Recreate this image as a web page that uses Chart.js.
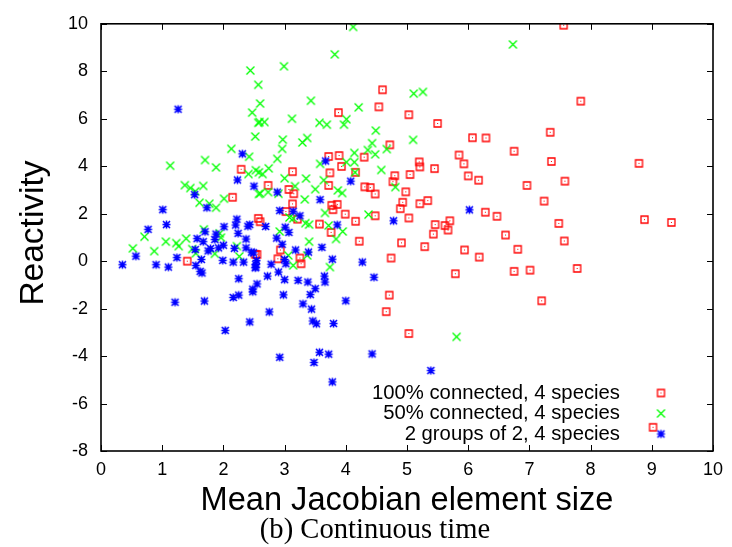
<!DOCTYPE html>
<html>
<head>
<meta charset="utf-8">
<script src="https://cdn.jsdelivr.net/npm/chart.js@4.4.0/dist/chart.umd.min.js"></script>
<style>
  html, body { margin: 0; padding: 0; background: #fff; }
  #wrap { width: 732px; height: 547px; }
</style>
</head>
<body>
<div id="wrap"><canvas id="myChart" width="732" height="547"></canvas></div>
<script>
// 100% connected, 4 species
const redX = [7.56,7.84,4.6,4.54,3.88,5.03,5.5,6.07,6.29,7.34,4.72,3.72,3.89,4.3,5.85,6.75,5.2,5.21,5.93,7.36,8.79,7.58,5.45,5.05,6.0,6.17,6.96,4.98,7.24,4.93,5.21,5.34,4.89,6.28,6.47,5.03,7.48,8.88,9.32,5.7,5.46,5.62,5.67,5.43,6.61,4.91,5.29,5.94,6.18,6.81,7.57,7.78,5.79,6.75,7.01,7.2,3.13,3.93,3.74,4.16,2.73,3.72,3.07,3.15,4.31,4.4,4.48,4.8,4.77,3.13,3.77,3.86,3.79,3.02,3.99,2.57,2.6,3.21,4.16,4.48,3.57,3.76,4.22,2.93,2.52,2.55,2.89,3.25,3.27,4.74,4.71,4.66,5.03,2.29,2.15,1.41,9.02];
const redY = [9.94,6.74,7.22,6.5,6.26,6.17,5.8,5.2,5.19,5.43,4.9,4.41,4.45,4.38,4.47,4.63,4.18,3.97,4.1,4.2,4.12,3.37,3.9,3.65,3.59,3.41,3.19,2.92,2.53,2.48,2.42,2.55,2.21,2.06,1.89,1.82,1.59,1.75,1.63,1.7,1.54,1.5,1.31,1.14,1.1,0.77,0.61,0.47,0.17,0.5,0.85,-0.31,-0.53,-0.43,-0.38,-1.67,3.77,3.99,3.72,3.74,3.19,3.19,3.02,2.84,3.13,3.1,2.83,3.6,3.35,2.41,2.35,2.39,2.17,2.09,1.98,1.8,1.66,1.77,1.68,1.91,1.56,1.21,0.84,0.47,0.29,0.28,0.1,0.13,-0.11,0.13,-1.43,-2.13,-3.05,3.87,2.69,0.0,-7.0];

// 50% connected, 4 species
const greenX = [2.44,2.57,2.6,2.47,2.57,2.52,2.13,2.42,1.7,4.12,3.82,2.99,3.43,4.21,3.12,2.59,2.67,3.57,3.69,4.01,3.97,4.49,2.97,3.29,3.37,2.96,4.43,4.36,4.48,4.14,4.67,2.88,4.01,4.14,6.73,5.11,5.26,5.1,1.13,1.88,2.41,2.53,2.58,1.37,1.46,1.54,1.67,1.61,1.77,1.88,2.01,2.58,1.68,0.71,1.06,1.23,1.27,1.39,0.52,0.87,1.49,1.55,1.86,1.94,1.96,2.22,2.26,3.58,2.64,2.74,3.0,3.35,3.64,4.15,4.58,4.81,2.6,2.73,2.9,3.17,3.5,3.33,3.87,3.94,3.66,4.37,3.08,3.14,3.34,3.4,3.72,2.92,3.95,3.84,3.4,3.14,3.74,3.06,3.37,5.81];
const greenY = [8.03,7.43,6.64,6.26,5.83,5.25,4.73,4.4,4.26,9.87,8.71,8.21,6.76,6.48,6.0,5.86,5.86,5.83,5.75,5.98,5.75,5.5,5.12,5.0,5.19,4.73,4.97,4.68,4.5,4.56,4.72,4.31,4.17,4.17,9.13,7.06,7.13,5.11,4.02,3.95,3.67,3.83,3.74,3.2,3.08,2.94,3.17,2.46,2.42,2.25,2.63,2.83,1.34,1.03,0.82,0.76,0.63,0.95,0.54,0.42,0.51,0.33,0.31,1.17,0.99,0.63,0.2,4.1,3.67,3.91,3.49,3.48,3.41,3.74,3.84,3.12,2.85,2.91,2.84,3.16,3.03,2.6,2.98,2.87,2.03,1.96,1.84,1.8,1.6,1.54,1.5,1.25,1.25,0.93,0.82,-0.18,-0.25,0.24,0.24,-3.19];

// 2 groups of 2, 4 species
const blueX = [1.26,2.31,3.67,2.23,2.5,1.53,1.73,1.01,1.07,0.77,1.7,1.57,1.67,1.88,1.86,2.0,2.01,2.22,2.2,2.24,2.4,2.37,2.18,2.37,2.49,1.79,1.75,1.92,1.54,1.64,1.24,1.99,2.16,2.33,0.35,0.57,0.9,1.1,1.55,1.62,1.65,2.52,2.53,2.25,2.55,2.48,2.16,2.25,1.21,1.69,2.03,2.43,2.48,2.98,3.42,2.75,3.3,3.44,4.0,3.46,3.52,3.8,2.92,3.57,3.72,3.48,4.43,3.78,5.39,2.88,4.08,3.58,2.92,3.14,3.25,3.01,3.07,2.69,2.43,3.86,4.78,2.87,2.96,3.61,3.18,3.39,2.46,2.54,2.53,2.78,3.0,3.02,2.9,3.78,4.27,2.72,3.0,3.22,3.38,3.65,3.66,3.5,4.46,6.02];
const blueY = [6.4,4.52,4.22,3.42,3.16,2.8,2.25,2.17,1.54,1.34,1.24,0.95,0.82,1.14,0.91,0.67,1.45,1.77,1.52,1.17,1.47,0.93,0.54,0.56,0.35,0.53,0.43,0.56,0.49,0.07,0.15,0.03,-0.04,-0.04,-0.15,0.21,-0.15,-0.25,-0.18,-0.43,-0.5,-0.28,-0.14,-0.74,-0.96,-1.18,-1.53,-1.43,-1.73,-1.68,-2.92,-2.56,-1.29,-1.42,-1.41,-2.14,-1.8,-2.02,-1.67,-2.52,-2.64,-2.63,-4.05,-3.84,-3.92,-4.27,-3.91,-5.09,-4.61,2.91,3.37,2.59,2.13,2.1,1.91,1.43,1.21,1.46,1.54,1.53,1.7,0.97,0.71,0.58,0.47,0.38,0.38,0.03,-0.25,-0.13,0.07,-0.11,-0.46,0.08,-0.04,-0.63,-0.78,-0.81,-0.88,-0.63,-0.88,-1.16,-0.68,2.16];

const seriesLabels = ['100% connected, 4 species', '50% connected, 4 species', '2 groups of 2, 4 species'];
const xTicks = [0,1,2,3,4,5,6,7,8,9,10];
const yTicks = [-8,-6,-4,-2,0,2,4,6,8,10];

function pts(xs, ys) {
    return xs.map((x, i) => ({x: x, y: ys[i]}));
}

// gnuplot-like markers drawn on small canvases
function marker(kind, color) {
    const c = document.createElement('canvas');
    c.width = 11; c.height = 11;
    const g = c.getContext('2d');
    g.strokeStyle = color;
    g.fillStyle = color;
    g.lineWidth = 1.3;
    g.beginPath();
    if (kind === 'box') {
        g.rect(2, 2, 7, 7);
        g.stroke();
        g.fillRect(5, 5, 1, 1);
    } else if (kind === 'x') {
        g.moveTo(1.5, 1.5); g.lineTo(9.5, 9.5);
        g.moveTo(9.5, 1.5); g.lineTo(1.5, 9.5);
        g.stroke();
    } else {
        g.lineWidth = 1.6;
        g.moveTo(2, 2); g.lineTo(9, 9);
        g.moveTo(9, 2); g.lineTo(2, 9);
        g.moveTo(5.5, 1.5); g.lineTo(5.5, 9.5);
        g.moveTo(1.5, 5.5); g.lineTo(9.5, 5.5);
        g.stroke();
    }
    return c;
}

const markers = [marker('box', '#ff0000'), marker('x', '#00ff00'), marker('star', '#0000ff')];

const sans = '"Liberation Sans", Arial, sans-serif';
const serif = '"Liberation Serif", "DejaVu Serif", serif';

function fitFont(ctx, text, family, width) {
    ctx.font = '100px ' + family;
    return 100 * width / ctx.measureText(text).width;
}

// frame, inward ticks, legend, titles
const decorations = {
    id: 'decorations',
    afterDraw(chart) {
        const ctx = chart.ctx;
        const a = chart.chartArea;
        const xs = chart.scales.x, ys = chart.scales.y;
        ctx.save();
        ctx.strokeStyle = '#000';
        ctx.lineWidth = 1;
        ctx.beginPath();
        xTicks.forEach(v => {
            const px = Math.round(xs.getPixelForValue(v)) + 0.5;
            ctx.moveTo(px, a.bottom); ctx.lineTo(px, a.bottom - 6);
            ctx.moveTo(px, a.top); ctx.lineTo(px, a.top + 6);
        });
        yTicks.forEach(v => {
            const py = Math.round(ys.getPixelForValue(v)) + 0.5;
            ctx.moveTo(a.left, py); ctx.lineTo(a.left + 6, py);
            ctx.moveTo(a.right, py); ctx.lineTo(a.right - 6, py);
        });
        ctx.stroke();
        ctx.lineWidth = 1.6;
        ctx.strokeRect(a.left, a.top, a.right - a.left, a.bottom - a.top);

        // legend
        let fs = fitFont(ctx, seriesLabels[0], sans, 248);
        ctx.font = fs.toFixed(1) + 'px ' + sans;
        ctx.fillStyle = '#000';
        ctx.textAlign = 'right';
        ctx.textBaseline = 'middle';
        const rows = [393, 413.5, 434];
        seriesLabels.forEach((t, i) => {
            ctx.fillText(t, 620, rows[i]);
            ctx.drawImage(markers[i], 661 - 5.5, rows[i] - 5.5);
        });

        // axis titles
        ctx.textAlign = 'center';
        const xt = 'Mean Jacobian element size';
        fs = fitFont(ctx, xt, sans, 413);
        ctx.font = fs.toFixed(1) + 'px ' + sans;
        ctx.fillText(xt, 407, 501);

        const cap = '(b) Continuous time';
        fs = fitFont(ctx, cap, serif, 230);
        ctx.font = fs.toFixed(1) + 'px ' + serif;
        ctx.fillText(cap, 375, 530);

        const yt = 'Reactivity';
        fs = fitFont(ctx, yt, sans, 145);
        ctx.font = fs.toFixed(1) + 'px ' + sans;
        ctx.translate(34, 233);
        ctx.rotate(-Math.PI / 2);
        ctx.fillText(yt, 0, 0);
        ctx.restore();
    }
};

const ctx = document.getElementById('myChart').getContext('2d');
const myChart = new Chart(ctx, {
    type: 'scatter',
    data: {
        datasets: [
            {label: seriesLabels[0], data: pts(redX, redY), pointStyle: markers[0], order: 2},
            {label: seriesLabels[1], data: pts(greenX, greenY), pointStyle: markers[1], order: 1},
            {label: seriesLabels[2], data: pts(blueX, blueY), pointStyle: markers[2], order: 0}
        ]
    },
    options: {
        responsive: false,
        animation: false,
        events: [],
        layout: {padding: {left: 0, top: 20, right: 19, bottom: 0}},
        plugins: {legend: {display: false}, tooltip: {enabled: false}},
        scales: {
            x: {
                type: 'linear', min: 0, max: 10,
                afterFit: s => { s.height = 96; },
                afterBuildTicks: s => { s.ticks = xTicks.map(v => ({value: v})); },
                grid: {display: false, drawTicks: false},
                border: {display: false},
                ticks: {color: '#000', padding: 8, maxRotation: 0, font: {family: sans, size: 18}}
            },
            y: {
                type: 'linear', min: -8, max: 10,
                afterFit: s => { s.width = 101; },
                afterBuildTicks: s => { s.ticks = yTicks.map(v => ({value: v})); },
                grid: {display: false, drawTicks: false},
                border: {display: false},
                ticks: {color: '#000', padding: 13, font: {family: sans, size: 18}}
            }
        }
    },
    plugins: [decorations]
});
</script>
</body>
</html>
